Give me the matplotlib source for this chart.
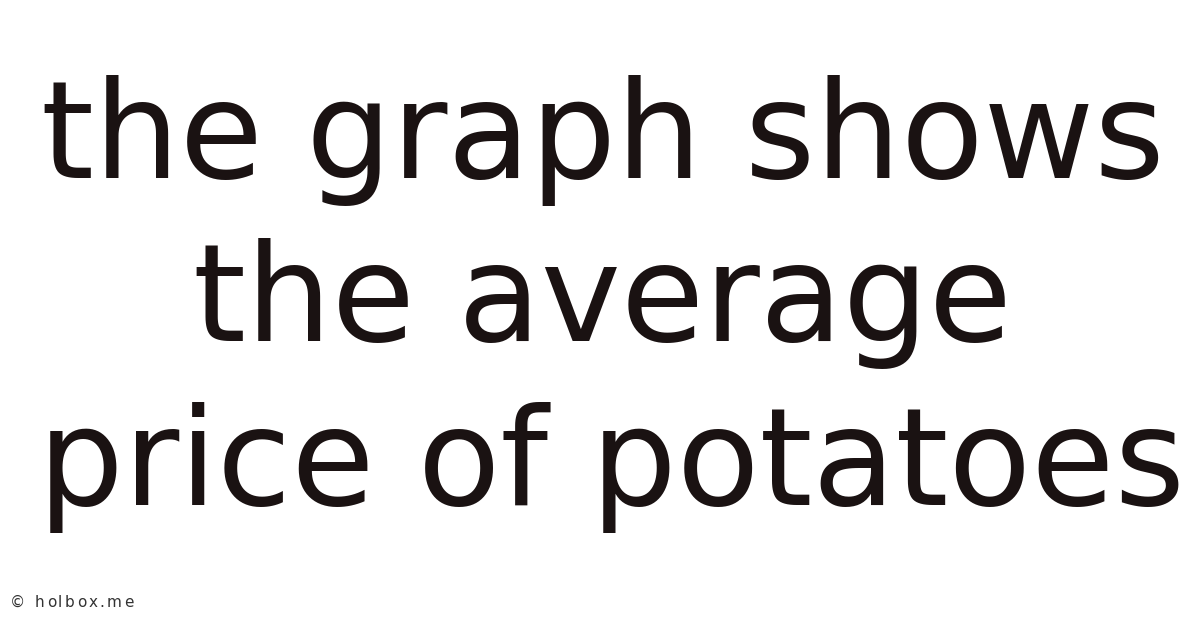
import matplotlib
matplotlib.use('Agg')
import matplotlib.pyplot as plt

# text content of the card
lines = ["the graph shows", "the average", "price of potatoes"]
centers_px = [603, 603, 611]
baselines_px = [178, 341, 505]
footer = "\u00a9 holbox.me"

W, H = 1200, 628
fig = plt.figure(figsize=(W / 100, H / 100), dpi=100)
fig.patch.set_facecolor('white')

for txt, xc, yb in zip(lines, centers_px, baselines_px):
    fig.text(xc / W, 1 - yb / H, txt, ha='center', va='baseline',
             fontsize=97.4, family='DejaVu Sans', color='#1a1212')

# footer is drawn letter by letter to get the wide tracking
renderer = fig.canvas.get_renderer()
fprops = dict(fontsize=11, family='DejaVu Sans', color='#333333')


def text_w(s):
    t = fig.text(0, 0, s + "x", **fprops)
    w = t.get_window_extent(renderer).width
    t.remove()
    t = fig.text(0, 0, "x", **fprops)
    w -= t.get_window_extent(renderer).width
    t.remove()
    return w


x0, track = 10, 2.3
for i, ch in enumerate(footer):
    x = x0 + text_w(footer[:i]) + i * track if i else x0
    fig.text(x / W, 1 - 607 / H, ch, ha='left', va='baseline', **fprops)

fig.savefig('out.png', dpi=100, facecolor='white')
